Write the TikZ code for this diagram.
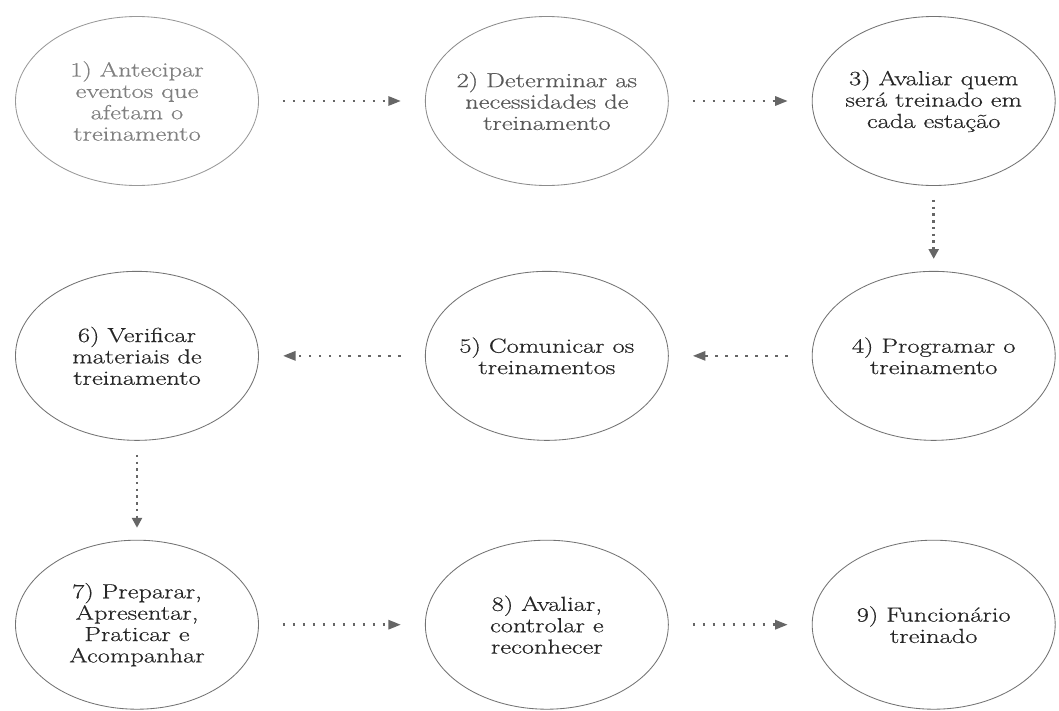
\documentclass[tikz,border=0pt]{standalone}
\usepackage{fontspec}
\setmainfont{Latin Modern Roman}[FakeStretch=1.3, FakeBold=0.5]
\usepackage{tikz}
\usetikzlibrary{positioning, shapes.geometric, arrows.meta}

\begin{document}
\begin{tikzpicture}[-,auto]
        \tikzstyle{stage}=[draw=black!55, line width=0.6pt, ellipse, inner sep=-0.6cm, minimum width=6.075cm, minimum height=4.225cm, align=center, text=black!85, font=\fontsize{14.5}{15.2}\selectfont]
        \tikzstyle{flow}=[draw=black!60, line width=1.8pt, dash pattern=on 1.8pt off 5.3pt, -{Triangle[length=9pt,width=6.5pt]}, shorten <=0.6cm, shorten >=0.6cm]
        \tikzstyle{down}=[dash pattern=on 1.8pt off 3pt, -{Triangle[length=7pt,width=7pt]}, shorten <=0.35cm, shorten >=0.3cm]
        \path[use as bounding box, fill=white] (0,0) rectangle (26.475,-17.75);
        \node[stage, draw=black!40, text=black!50] (1) at (3.425,-2.525) {1) Antecipar\\eventos que\\afetam o\\treinamento};
        \node[stage, draw=black!45, text=black!65] (2) [right=4.15cm of 1]  {2) Determinar as\\necessidades de\\treinamento};
        \node[stage]  (3) [right=3.575cm of 2]      {3) Avaliar quem\\será treinado em\\cada estação};
        \node[stage]  (4) [below=2.125cm of 3]      {4) Programar o\\treinamento};
        \node[stage]  (5) [left=3.575cm of 4]       {5) Comunicar os\\treinamentos};
        \node[stage]  (6) [left=4.15cm of 5]        {6) Verificar\\materiais de\\treinamento};
        \node[stage]  (7) [below=2.475cm of 6]      {7) Preparar,\\Apresentar,\\Praticar e\\Acompanhar};
        \node[stage]  (8) [right=4.15cm of 7]       {8) Avaliar,\\controlar e\\reconhecer};
        \node[stage]  (9) [right=3.575cm of 8]      {9) Funcionário\\treinado};
        \draw[flow] (1) -- (2);
        \draw[flow] (2) -- (3);
        \draw[flow,down] (3) -- (4);
        \draw[flow] (4) -- (5);
        \draw[flow] (5) -- (6);
        \draw[flow,down] (6) -- (7);
        \draw[flow] (7) -- (8);
        \draw[flow] (8) -- (9);
    \end{tikzpicture}
\end{document}
